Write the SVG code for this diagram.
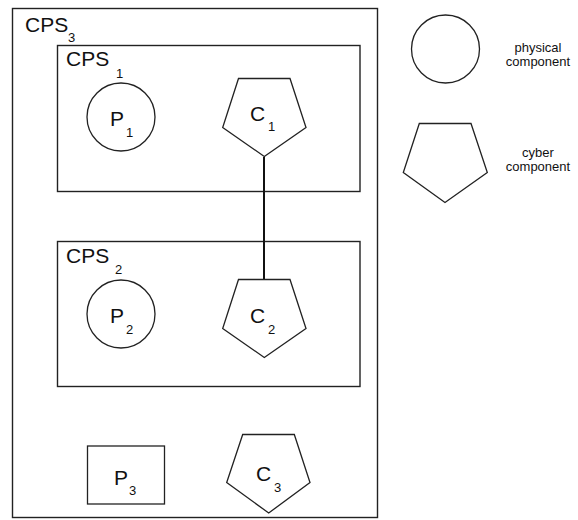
<svg xmlns="http://www.w3.org/2000/svg" width="578" height="520" viewBox="0 0 578 520">
<style>
.box{fill:none;stroke:#222;stroke-width:1.4}
.shape{fill:#fff;stroke:#222;stroke-width:1.3}
.lbl{font-family:"Liberation Sans",Arial,sans-serif;font-size:21px;fill:#111}
.sub{font-family:"Liberation Sans",Arial,sans-serif;font-size:13px;fill:#111}
.leg{font-family:"Liberation Sans",Arial,sans-serif;font-size:13px;fill:#111;text-anchor:middle}
.conn{stroke:#111;stroke-width:2;fill:none}
</style>
<rect width="578" height="520" fill="#fff"/>
<g id="CPS3">
<rect class="box" x="12.5" y="8.5" width="365" height="509"/>
<text class="lbl" x="25" y="32">CPS</text><text class="sub" x="68" y="42">3</text>
</g>
<g id="CPS1">
<rect class="box" x="57.5" y="45.5" width="302.5" height="146"/>
<text class="lbl" x="66" y="66">CPS</text><text class="sub" x="116" y="78">1</text>
</g>
<g id="CPS2">
<rect class="box" x="57.5" y="241.5" width="302.5" height="145"/>
<text class="lbl" x="66" y="263">CPS</text><text class="sub" x="115" y="274">2</text>
</g>
<g id="connectors">
<line class="conn" x1="264" y1="157" x2="264" y2="279.5"/>
</g>
<g id="P1">
<circle class="shape" cx="121" cy="117" r="34"/>
<text class="lbl" x="110" y="126">P</text><text class="sub" x="126" y="137">1</text>
</g>
<g id="C1">
<polygon class="shape" points="238.5,78.5 290,78.5 306,127.5 264.3,156.5 222.7,127.5"/>
<text class="lbl" x="250" y="121">C</text><text class="sub" x="268" y="131">1</text>
</g>
<g id="P2">
<circle class="shape" cx="121" cy="314" r="34"/>
<text class="lbl" x="110" y="323">P</text><text class="sub" x="126" y="334">2</text>
</g>
<g id="C2">
<polygon class="shape" points="238.5,279.5 290,279.5 306,328.5 264.3,357.5 222.7,328.5"/>
<text class="lbl" x="250" y="323">C</text><text class="sub" x="268" y="334">2</text>
</g>
<g id="P3">
<rect class="shape" x="87.5" y="446" width="77" height="58"/>
<text class="lbl" x="114" y="485">P</text><text class="sub" x="129" y="495">3</text>
</g>
<g id="C3">
<polygon class="shape" points="242.7,434.5 294.3,434.5 310,482.5 268.7,513 226.7,482.5"/>
<text class="lbl" x="256" y="481">C</text><text class="sub" x="274" y="492">3</text>
</g>
<g id="legend-physical">
<circle class="shape" cx="445.5" cy="49" r="34"/>
<text class="leg" x="538" y="52">physical</text>
<text class="leg" x="538" y="66">component</text>
</g>
<g id="legend-cyber">
<polygon class="shape" points="419.3,123.5 471,123.5 487.3,172.5 445,202.5 403.3,172.5"/>
<text class="leg" x="538" y="157">cyber</text>
<text class="leg" x="538" y="171">component</text>
</g>
</svg>
